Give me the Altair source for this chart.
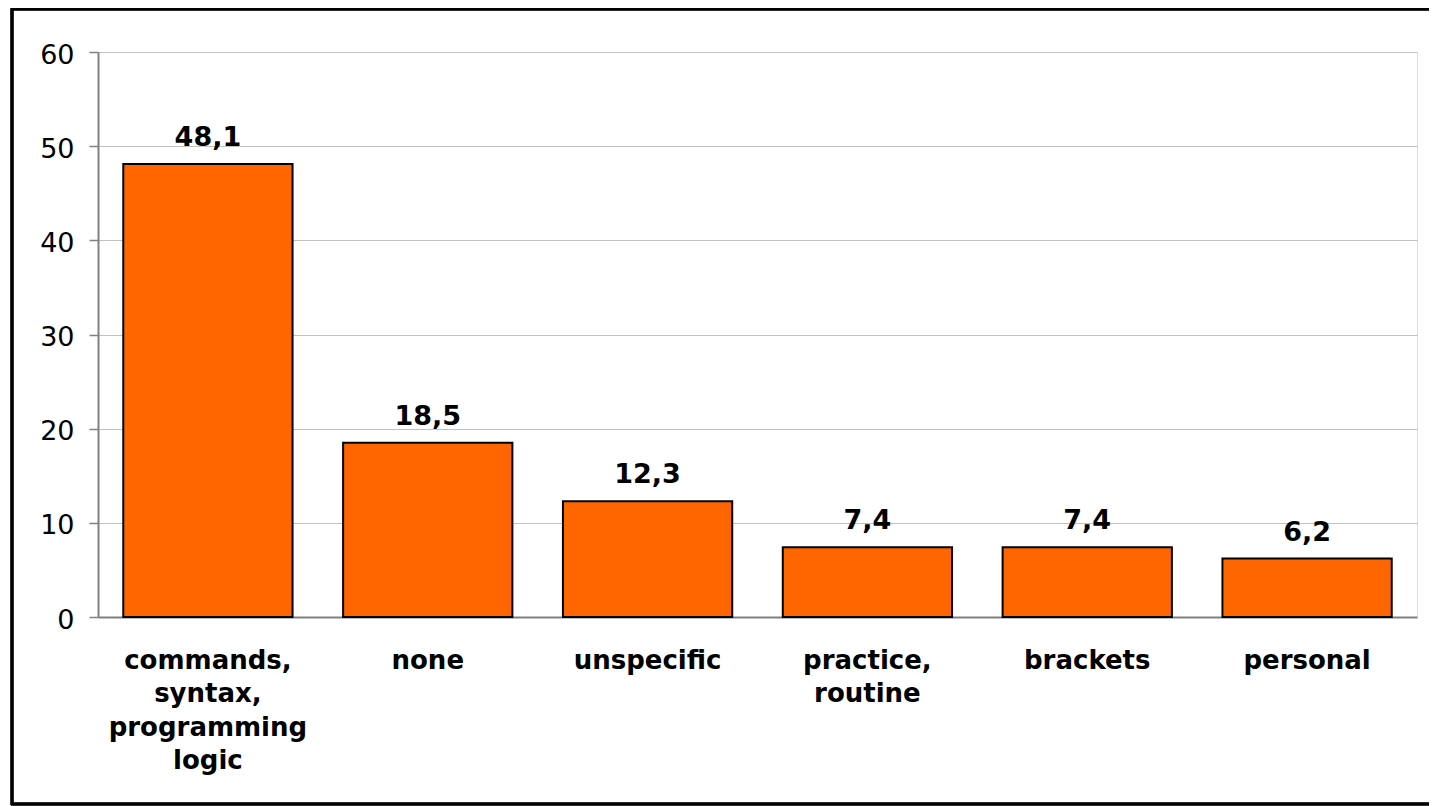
import altair as alt
import pandas as pd

categories = ["commands,|syntax,|programming|logic", "none", "unspecific", "practice,|routine", "brackets", "personal"]
values = [48.1, 18.5, 12.3, 7.4, 7.4, 6.2]
y_ticks = [0, 10, 20, 30, 40, 50, 60]

df = pd.DataFrame({"cat": categories, "value": values})

FONT = "DejaVu Sans"
W, H = 1319, 565

x = alt.X("cat:N", sort=categories, title=None,
          scale=alt.Scale(paddingInner=0.23, paddingOuter=0.115),
          axis=alt.Axis(labelExpr="split(datum.label, '|')", labelAngle=0,
                        labelFont=FONT, labelFontSize=26, labelFontWeight="bold",
                        labelColor="black", labelLineHeight=33.5, labelPadding=30,
                        labelLimit=400, ticks=False, domainColor="#808080",
                        domainWidth=2, grid=False, labelBaseline="top"))
y = alt.Y("value:Q", title=None,
          scale=alt.Scale(domain=[0, 60], nice=False),
          axis=alt.Axis(values=y_ticks, labelFont=FONT, labelFontSize=27,
                        labelColor="black", labelPadding=15, labelOffset=3, tickSize=9,
                        tickColor="#808080", tickWidth=1.5, domainColor="#808080",
                        domainWidth=2, gridColor="#c0c0c0", gridWidth=1))

bars = alt.Chart(df).mark_bar(color="#FF6600", stroke="black", strokeWidth=2).encode(x=x, y=y)

labels = alt.Chart(df).transform_calculate(
    lbl="replace(format(datum.value, '.1f'), '.', ',')"
).mark_text(font=FONT, fontSize=27, fontWeight="bold", color="black",
            baseline="alphabetic", dy=-18).encode(x=x, y=y, text="lbl:N")

frame_style = dict(color="black", strokeWidth=2.5, clip=False)
frame_top = alt.Chart(df).mark_rule(**frame_style).encode(
    x=alt.value(-87), x2=alt.value(1340), y=alt.value(-43))
frame_left = alt.Chart(df).mark_rule(**frame_style).encode(
    x=alt.value(-86), y=alt.value(-44), y2=alt.value(753))
frame_bottom = alt.Chart(df).mark_rule(**frame_style).encode(
    x=alt.value(-87), x2=alt.value(1340), y=alt.value(752))

chart = alt.layer(bars, labels, frame_top, frame_left, frame_bottom).properties(
    width=W, height=H,
    autosize=alt.AutoSizeParams(type="none"),
    padding={"left": 90, "top": 44, "right": 12, "bottom": 189},
).configure_view(stroke="#808080", strokeWidth=2).configure(background="white")

chart.save("out.html", embed_options={"renderer": "svg", "actions": False})
